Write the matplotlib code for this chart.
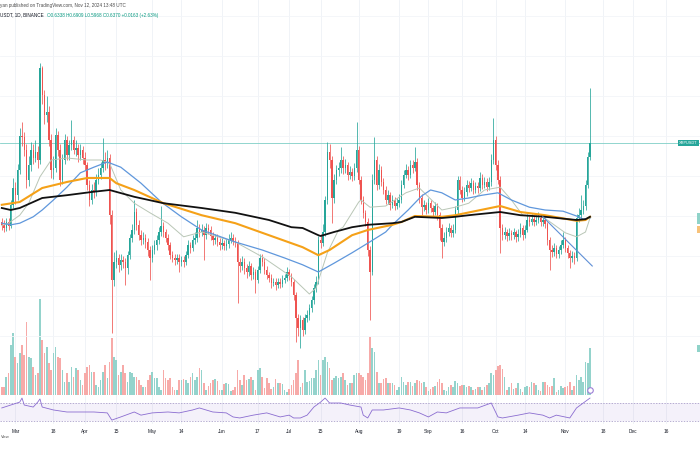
import numpy as np
import matplotlib.pyplot as plt
import matplotlib.transforms as mtransforms
from matplotlib.patches import Rectangle

plt.rcParams['font.family'] = ['Liberation Sans', 'DejaVu Sans']

# daily candles from 2024-02-24, XRP/USDT
start = np.datetime64('2024-02-24')
first_open = 0.542
closes = [
    .539, .535, .543, .538, .564, .585, .576, .608, .650, .649,
    .633, .595, .614, .633, .623, .630, .620, .735, .701, .676,
    .680, .645, .608, .610, .651, .633, .595, .620, .645, .626,
    .639, .645, .633, .635, .626, .633, .623, .614, .589, .570,
    .583, .580, .595, .601, .610, .620, .616, .623, .551, .470,
    .493, .498, .489, .495, .493, .485, .501, .523, .533, .555,
    .539, .526, .520, .523, .518, .508, .498, .508, .514, .520,
    .530, .538, .530, .523, .514, .501, .498, .495, .498, .493,
    .495, .493, .501, .514, .510, .520, .523, .535, .530, .533,
    .526, .535, .533, .525, .520, .523, .518, .514, .516, .513,
    .515, .520, .523, .519, .516, .493, .488, .493, .485, .480,
    .488, .476, .480, .470, .483, .498, .493, .483, .476, .473,
    .466, .468, .464, .468, .465, .470, .473, .480, .475, .468,
    .451, .423, .410, .420, .408, .423, .426, .435, .445, .460,
    .468, .520, .516, .530, .570, .630, .620, .573, .595, .608,
    .610, .620, .610, .614, .601, .605, .600, .610, .633, .595,
    .570, .554, .543, .508, .480, .595, .620, .589, .608, .593,
    .583, .570, .576, .564, .570, .563, .566, .570, .589, .601,
    .608, .601, .614, .610, .618, .589, .573, .561, .564, .558,
    .566, .560, .555, .563, .551, .535, .518, .523, .530, .535,
    .529, .533, .558, .595, .583, .573, .580, .589, .585, .591,
    .583, .588, .585, .598, .589, .593, .586, .593, .620, .645,
    .614, .595, .535, .526, .530, .525, .529, .526, .530, .524,
    .528, .535, .526, .533, .545, .543, .546, .543, .545, .548,
    .543, .545, .540, .520, .508, .505, .510, .503, .508, .514,
    .520, .510, .504, .498, .500, .498, .548, .551, .558, .563,
    .589, .624, .641]
highs = [
    .548, .545, .548, .547, .570, .598, .592, .615, .660, .668,
    .655, .640, .625, .642, .640, .645, .638, .741, .738, .708,
    .700, .688, .652, .625, .660, .656, .640, .628, .652, .650,
    .645, .670, .650, .645, .640, .640, .637, .630, .618, .595,
    .590, .592, .602, .610, .618, .648, .630, .632, .628, .558,
    .505, .508, .503, .502, .500, .498, .506, .528, .540, .570,
    .560, .545, .532, .530, .528, .522, .512, .514, .520, .526,
    .536, .562, .543, .534, .527, .518, .506, .503, .503, .502,
    .500, .500, .506, .520, .518, .526, .530, .545, .540, .540,
    .538, .541, .540, .537, .530, .528, .527, .522, .522, .520,
    .521, .527, .530, .528, .524, .520, .498, .500, .497, .490,
    .494, .491, .486, .484, .488, .503, .502, .497, .487, .480,
    .477, .473, .472, .473, .472, .476, .478, .486, .484, .479,
    .471, .455, .428, .426, .424, .428, .432, .440, .450, .465,
    .475, .525, .528, .540, .575, .643, .640, .625, .602, .614,
    .618, .636, .625, .621, .618, .612, .610, .616, .667, .638,
    .600, .575, .558, .548, .512, .602, .649, .625, .615, .612,
    .598, .588, .582, .580, .576, .574, .572, .578, .595, .608,
    .615, .612, .620, .620, .636, .622, .593, .577, .570, .568,
    .572, .570, .564, .568, .566, .555, .540, .530, .536, .541,
    .539, .540, .563, .600, .600, .588, .586, .595, .594, .598,
    .595, .593, .592, .605, .602, .599, .597, .599, .628, .673,
    .650, .620, .600, .540, .536, .534, .535, .533, .535, .533,
    .534, .541, .539, .539, .552, .550, .552, .550, .551, .555,
    .552, .550, .549, .543, .524, .514, .516, .514, .513, .520,
    .530, .524, .514, .508, .506, .505, .553, .560, .576, .570,
    .595, .630, .710]
lows = [
    .533, .530, .531, .532, .535, .560, .565, .570, .602, .638,
    .625, .585, .588, .606, .615, .618, .610, .615, .690, .665,
    .668, .638, .598, .596, .605, .625, .588, .590, .615, .620,
    .620, .632, .628, .625, .618, .620, .615, .608, .582, .562,
    .565, .572, .575, .590, .596, .605, .608, .610, .540, .404,
    .462, .485, .480, .483, .485, .464, .478, .496, .518, .528,
    .533, .520, .514, .515, .510, .500, .470, .492, .503, .508,
    .515, .525, .524, .518, .508, .496, .492, .489, .490, .480,
    .487, .486, .489, .497, .504, .506, .515, .518, .524, .525,
    .495, .521, .527, .520, .514, .515, .512, .508, .509, .508,
    .508, .510, .516, .514, .511, .441, .480, .482, .478, .473,
    .475, .470, .471, .454, .466, .479, .488, .478, .471, .467,
    .460, .462, .458, .460, .460, .461, .466, .469, .470, .462,
    .445, .392, .400, .385, .400, .402, .417, .420, .430, .440,
    .455, .465, .510, .512, .525, .565, .610, .541, .566, .590,
    .600, .604, .603, .604, .595, .596, .594, .595, .605, .590,
    .565, .548, .537, .500, .420, .476, .590, .582, .584, .587,
    .577, .565, .565, .558, .560, .557, .559, .561, .566, .585,
    .597, .595, .597, .604, .606, .583, .566, .551, .556, .552,
    .554, .555, .549, .551, .545, .520, .497, .512, .518, .525,
    .524, .524, .529, .553, .577, .568, .569, .575, .580, .581,
    .578, .579, .579, .581, .584, .585, .581, .582, .588, .615,
    .608, .590, .504, .520, .521, .519, .520, .520, .521, .518,
    .519, .524, .520, .522, .530, .538, .539, .538, .539, .541,
    .538, .538, .535, .514, .483, .499, .500, .497, .498, .503,
    .510, .505, .498, .485, .492, .490, .494, .542, .546, .552,
    .558, .585, .620]
# volume, millions of XRP
volumes = [
    80, 80, 180, 220, 500, 620, 380, 320, 420, 500,
    400, 730, 380, 370, 280, 200, 220, 960, 550, 420,
    480, 320, 250, 420, 480, 380, 370, 250, 130, 220,
    130, 280, 180, 270, 250, 150, 100, 220, 280, 300,
    230, 230, 100, 80, 150, 230, 300, 170, 330, 570,
    380, 350, 200, 230, 300, 220, 130, 230, 220, 180,
    180, 150, 100, 80, 80, 150, 200, 230, 170, 170,
    80, 50, 250, 170, 150, 170, 80, 50, 50, 150,
    150, 160, 150, 120, 180, 220, 150, 180, 270, 250,
    120, 50, 90, 120, 150, 160, 140, 50, 50, 110,
    120, 110, 40, 50, 80, 250, 150, 100, 200, 150,
    160, 180, 150, 50, 250, 270, 180, 70, 170, 120,
    60, 80, 160, 120, 120, 110, 50, 30, 60, 100,
    150, 220, 350, 80, 120, 250, 130, 140, 170, 170,
    250, 350, 200, 350, 380, 330, 270, 150, 170, 190,
    170, 180, 220, 150, 100, 120, 120, 200, 220, 220,
    200, 180, 150, 220, 580, 470, 430, 230, 120, 120,
    160, 170, 120, 120, 120, 100, 50, 80, 180, 130,
    100, 130, 130, 90, 120, 150, 140, 120, 130, 80,
    40, 60, 80, 90, 130, 160, 120, 50, 40, 80,
    100, 80, 140, 120, 90, 100, 100, 80, 90, 80,
    50, 60, 80, 80, 50, 80, 100, 120, 220, 200,
    250, 290, 300, 260, 180, 50, 80, 120, 60, 70,
    120, 60, 30, 80, 90, 80, 130, 120, 100, 50,
    40, 130, 130, 100, 80, 90, 170, 30, 50, 90,
    70, 80, 90, 130, 50, 90, 200, 150, 180, 130,
    330, 320, 470]

# moving averages, read every few days (day number, price)
sma200_days = [0, 4, 8, 18, 29, 40, 48, 59, 72, 89, 104, 119, 129, 134, 141, 142, 148, 156,
               163, 174, 178, 184, 196, 202, 208, 222, 231, 242, 256, 260, 262]
sma200 = [.560, .5575, .560, .5725, .576, .580, .5825, .574, .566, .560, .554, .545, .536, .535,
          .526, .525, .530, .536, .539, .541, .5425, .549, .5475, .549, .551, .555, .551, .549,
          .545, .546, .549]
ema100_days = [0, 8, 18, 29, 38, 48, 51, 59, 72, 89, 104, 119, 134, 141, 146, 156, 163, 174,
               178, 184, 196, 202, 222, 231, 242, 256, 260, 262]
ema100 = [.564, .5675, .585, .5925, .5975, .5975, .591, .5825, .566, .551, .541, .526, .511,
          .501, .5075, .526, .5325, .539, .5425, .550, .549, .551, .5625, .555, .551, .544,
          .545, .549]
ema50_days = [0, 4, 8, 14, 18, 23, 29, 35, 41, 47, 53, 62, 71, 80, 89, 104, 116, 126, 134, 141,
              148, 156, 163, 171, 174, 181, 187, 191, 196, 202, 208, 214, 221, 227, 235, 242,
              250, 256, 259, 262]
ema50 = [.541, .539, .541, .549, .5575, .570, .586, .604, .611, .6175, .611, .591, .5675, .549,
         .5325, .5175, .5075, .4975, .489, .480, .491, .504, .516, .530, .539, .5575, .575,
         .5825, .579, .570, .5725, .576, .579, .570, .561, .5575, .556, .550, .546, .5475]
ema20_days = [0, 3, 8, 12, 17, 22, 29, 38, 44, 48, 53, 59, 66, 74, 81, 89, 104, 116, 129, 137,
              140, 145, 150, 152, 159, 160, 164, 171, 180, 186, 190, 196, 202, 208, 215, 222,
              227, 232, 241, 245, 251, 256, 260, 262]
ema20 = [.538, .541, .551, .566, .599, .620, .6225, .620, .620, .616, .5825, .566, .554, .541,
         .524, .530, .5175, .499, .474, .4525, .460, .504, .5325, .536, .5675, .570, .561,
         .5625, .579, .585, .574, .5575, .561, .566, .5825, .586, .570, .551, .549, .541, .529,
         .524, .530, .5475]

# RSI(14), read every few days
rsi_days = [0, 4, 8, 9, 10, 14, 16, 17, 18, 23, 29, 35, 41, 47, 49, 53, 59, 62, 67, 74, 79, 85,
            88, 94, 100, 103, 106, 112, 118, 124, 128, 130, 133, 136, 139, 142, 144, 146, 151,
            155, 160, 161, 163, 165, 170, 177, 182, 186, 190, 194, 198, 204, 212, 218, 221, 223,
            230, 235, 241, 244, 247, 253, 256, 259, 262]
rsi = [59, 65.5, 72, 81, 65.5, 61, 72, 79, 61, 54.5, 50, 50, 50, 48, 32, 39, 50, 43, 48, 50, 48,
       54.5, 59, 50, 48, 39, 36.7, 43, 48, 39, 43, 36.7, 36.7, 43, 61, 72, 81, 70, 70, 65.5, 61,
       43, 36.7, 54.5, 54.5, 59, 54.5, 48, 39, 50, 48, 59, 59, 70, 39, 36.7, 43, 48, 43, 36.7,
       43, 36.7, 59, 70, 81]

# drawn trend line (day, price)
trend_days = [241, 263]
trend_prices = [0.549, 0.4875]

tick_dates = ['2024-03-01', '2024-03-18', '2024-04-01', '2024-04-15', '2024-05-01', '2024-05-14',
              '2024-06-01', '2024-06-17', '2024-07-01', '2024-07-15', '2024-08-01', '2024-08-19',
              '2024-09-01', '2024-09-16', '2024-10-01', '2024-10-14', '2024-11-01', '2024-11-18',
              '2024-12-01', '2024-12-16']
tick_labels = ['Mar', '18', 'Apr', '15', 'May', '14', 'Jun', '17', 'Jul', '15', 'Aug', '19',
               'Sep', '16', 'Oct', '14', 'Nov', '18', 'Dec', '16']

up_col = '#26a69a'
dn_col = '#ef5350'

closes = np.array(closes)
opens = np.concatenate([[first_open], closes[:-1]])
highs = np.array(highs)
lows = np.array(lows)
days = np.arange(len(closes))
is_up = closes >= opens
ticks = [(np.datetime64(d) - start).astype(int) for d in tick_dates]
xlim = (-0.8, 311.0)

fig = plt.figure(figsize=(7, 4.5), dpi=100)
ax = fig.add_axes([0, 55 / 450, 1, 395 / 450])
axv = ax.twinx()
axr = fig.add_axes([0, 26 / 450, 1, 29 / 450])

# volume underneath the candles
ax.set_zorder(axv.get_zorder() + 1)
ax.patch.set_visible(False)
vcols = np.where(is_up, '#94d3cc', '#f7aaa8')
axv.bar(days, volumes, width=0.72, color=vcols, linewidth=0)
axv.set_ylim(0, 3950)
axv.plot([days[-1]], [50], marker='o', ms=4, mfc='white', mec='#9c7ed6', mew=0.8)

# grid
for t in ticks:
    axv.axvline(t, color='#eef1f6', lw=0.6, zorder=0)
    axr.axvline(t, color='#eef1f6', lw=0.6, zorder=0)
for p in np.arange(0.40, 0.81, 0.05):
    ax.axhline(p, color='#f3f5f9', lw=0.6, zorder=0.5)

# candles
cols = np.where(is_up, up_col, dn_col)
ax.vlines(days, lows, highs, colors=cols, lw=0.55, zorder=2)
body = np.maximum(np.abs(closes - opens), 0.0008)
ax.bar(days, body, bottom=np.minimum(opens, closes), width=0.62, color=cols, linewidth=0, zorder=2)

# moving averages
ax.plot(ema20_days, ema20, color='#b9c6b6', lw=0.7, zorder=3)
ax.plot(ema50_days, ema50, color='#5f97dc', lw=0.9, zorder=3)
ax.plot(ema100_days, ema100, color='#f5a118', lw=1.5, zorder=3)
ax.plot(sma200_days, sma200, color='#111111', lw=1.3, zorder=3)
ax.plot(trend_days, trend_prices, color='#5f8fd6', lw=0.8, zorder=3)

# last price line and label
ax.axhline(closes[-1], color='#7fcfc6', lw=0.6, zorder=1)
trans = mtransforms.blended_transform_factory(ax.transAxes, ax.transData)
ax.text(0.9836, closes[-1], 'XRPUSDT', transform=trans, fontsize=2.8, color='white',
        ha='center', va='center', zorder=5,
        bbox=dict(boxstyle='square,pad=0.3', fc=up_col, ec='none'))

ax.set_xlim(*xlim)
ax.set_ylim(0.32625, 0.82)
axv.set_xlim(*xlim)
for a in (ax, axv):
    a.set_xticks([])
    a.set_yticks([])
    for s in a.spines.values():
        s.set_visible(False)

# cut-off price scale labels at the right edge
for y0, h, c in [(213, 11, '#8fd3c9'), (226, 7, '#f7c27a'), (345, 7, '#8fd3c9')]:
    fig.patches.append(Rectangle((697 / 700, 1 - (y0 + h) / 450), 3 / 700, h / 450,
                                 transform=fig.transFigure, fc=c, ec='none'))

# RSI pane
axr.axhspan(30, 70, color='#7e57c2', alpha=0.08, lw=0)
axr.axhline(70, color='#9b8fc0', lw=0.5, ls=(0, (2, 2)))
axr.axhline(30, color='#9b8fc0', lw=0.5, ls=(0, (2, 2)))
axr.plot(rsi_days, rsi, color='#8a6cd0', lw=0.6)
axr.set_xlim(*xlim)
axr.set_ylim(23.3, 87.8)
axr.set_yticks([])
axr.set_xticks(ticks)
axr.set_xticklabels(tick_labels, fontsize=3.4, color='#131722')
axr.tick_params(axis='x', length=0, pad=3.5)
for s in axr.spines.values():
    s.set_visible(False)
axr.patch.set_visible(False)

# header
fig.text(0.0, 1 - 5 / 450, 'yan published on TradingView.com, Nov 12, 2024 13:48 UTC',
         fontsize=3.3, color='#4a4a4a', va='center')
fig.text(0.0, 1 - 15 / 450, 'USDT, 1D, BINANCE', fontsize=3.3, color='#131722', va='center')
fig.text(47 / 700, 1 - 15 / 450, 'O0.6338 H0.6909 L0.5968 C0.6370 +0.0163 (+2.63%)',
         fontsize=3.3, color='#089981', va='center')
fig.text(0.001, 1 - 437 / 450, 'View', fontsize=3, color='#555555', va='center')

fig.savefig('out.png', dpi=100, facecolor='white')
